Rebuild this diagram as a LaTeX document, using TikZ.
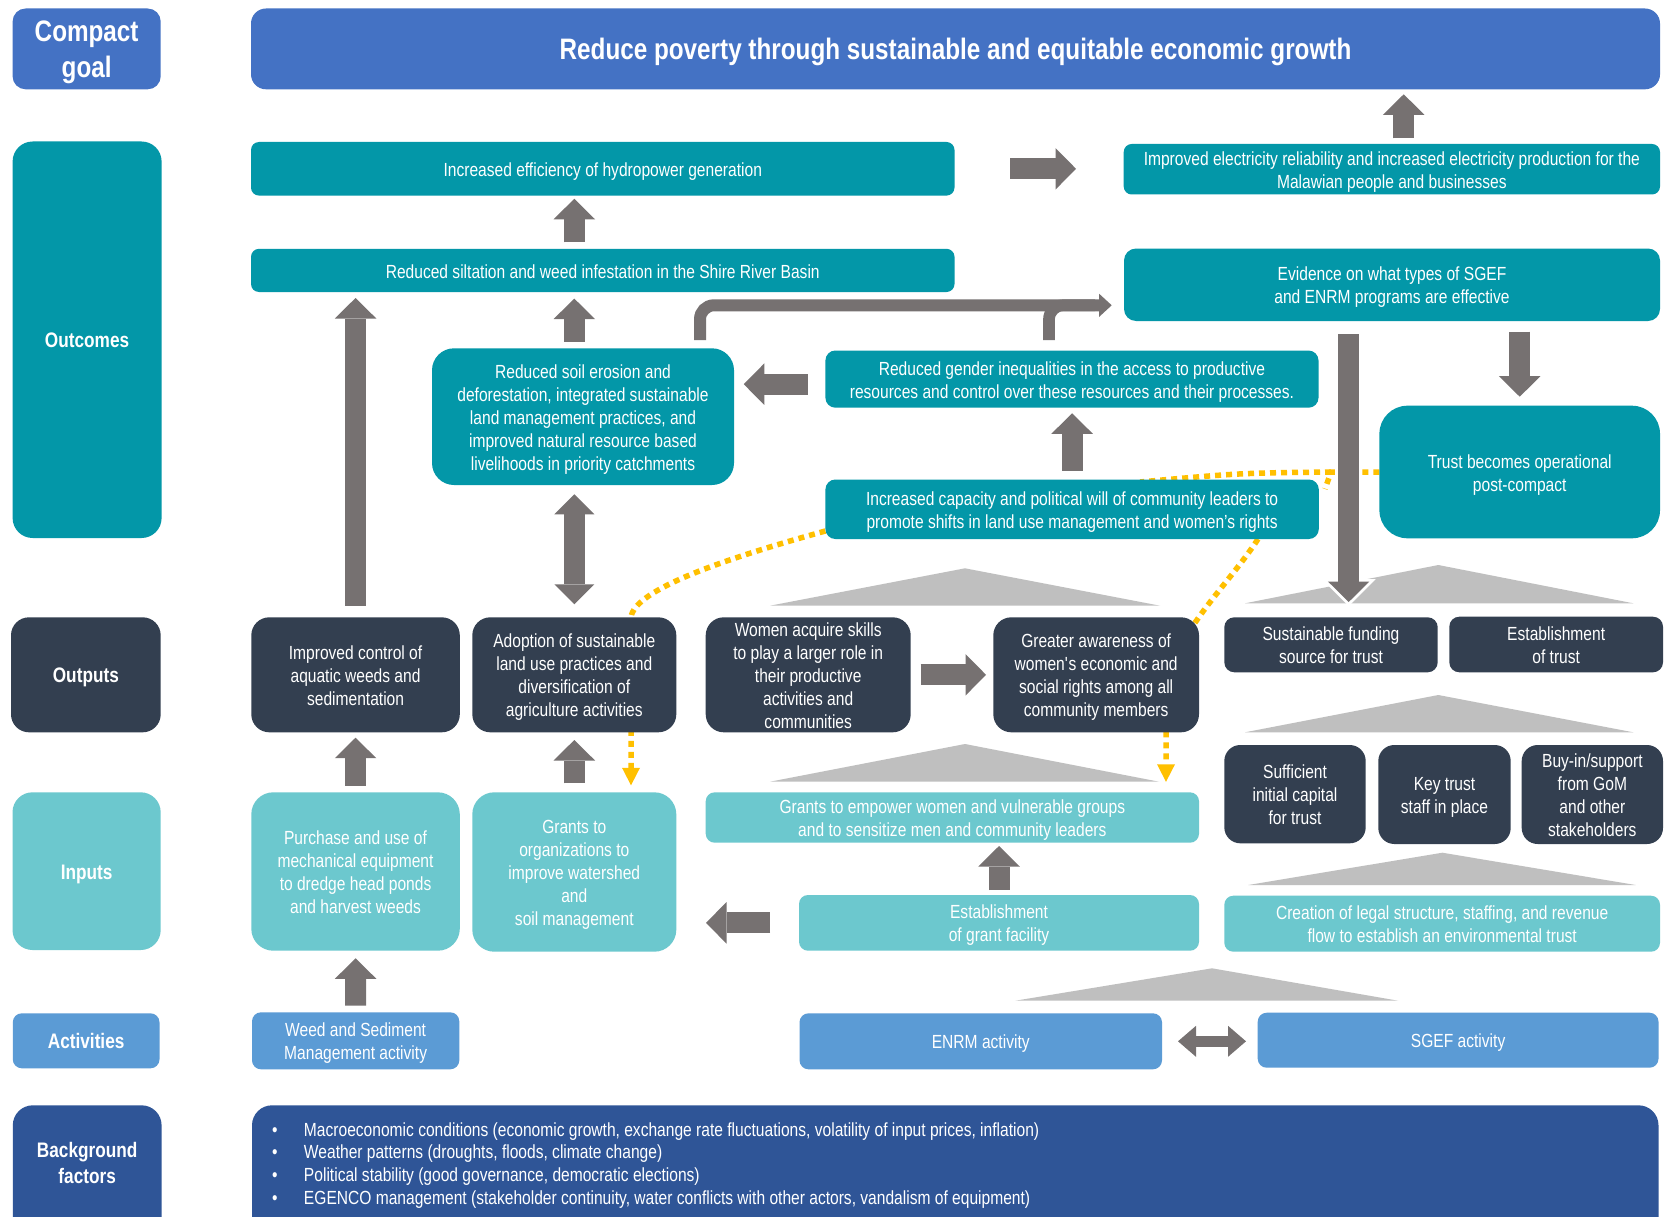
\documentclass[tikz,border=0pt]{standalone}
\usepackage{fontspec}
\setmainfont{Liberation Sans}[FakeStretch=0.82]
\usetikzlibrary{arrows.meta,calc}
\definecolor{goalblue}{HTML}{4472C4}
\definecolor{outteal}{HTML}{0397A8}
\definecolor{outdark}{HTML}{333F50}
\definecolor{inteal}{HTML}{6CC8CE}
\definecolor{actblue}{HTML}{5B9BD5}
\definecolor{bgblue}{HTML}{2F5597}
\definecolor{arrgray}{HTML}{767171}
\definecolor{trigray}{HTML}{BFBFBF}
\definecolor{ylw}{HTML}{FFC000}
\pgfdeclarelayer{back}
\pgfsetlayers{back,main}
\newcommand{\bx}[7]{\node[#6, minimum width={(#4)-(#2)}, minimum height={(#5)-(#3)}] (#1) at ({((#2)+(#4))/2},{((#3)+(#5))/2}) {\raisebox{-3pt}[\height][\depth]{\begin{tabular}{@{}c@{}}#7\end{tabular}}};}
\tikzset{
  base/.style={inner sep=0pt, outer sep=0pt, align=center, text=white, font=\fontsize{19}{23}\selectfont},
  lab/.style={base, font=\bfseries\fontsize{21}{25.5}\selectfont},
  oc/.style={base, fill=outteal},
  op/.style={base, fill=outdark},
  ip/.style={base, fill=inteal},
  ac/.style={base, fill=actblue},
  blk/.style={draw=arrgray, line width=21pt, -{Triangle[length=20.5pt,width=41.5pt,line width=0pt]}},
  blkk/.style={draw=arrgray, line width=21pt, {Triangle[length=20pt,width=40pt,line width=0pt]}-{Triangle[length=20pt,width=40pt,line width=0pt]}},
  ydot/.style={draw=ylw, line width=5.5pt, dash pattern=on 6pt off 5pt},
  yarr/.style={ydot, -{Triangle[length=17.5pt,width=18pt,line width=0pt]}},
  tri/.style={fill=trigray}
}
\begin{document}
\begin{tikzpicture}[x=1pt,y=-1pt]
\useasboundingbox (0,0) rectangle (1667,1217);
\clip (0,0) rectangle (1667,1217);

% ---------- row labels ----------
\bx{lgoal}{12.6}{8.5}{160.7}{89.3}{lab, fill=goalblue, rounded corners=13pt, font=\bfseries\fontsize{29.6}{36}\selectfont}{Compact\\goal}
\bx{lout}{12.6}{141.5}{161.6}{538}{lab, fill=outteal, rounded corners=20pt}{Outcomes}
\bx{loutp}{11}{617.3}{160.7}{732.3}{lab, fill=outdark, rounded corners=18pt}{Outputs}
\bx{linp}{12.5}{792.3}{160.7}{950}{lab, fill=inteal, rounded corners=20pt}{Inputs}
\bx{lact}{12.8}{1013.3}{159.5}{1068.3}{lab, fill=actblue, rounded corners=9pt}{Activities}
\bx{lbg}{12.8}{1105.3}{161.6}{1250}{lab, fill=bgblue, rounded corners=20pt}{}
\node[lab] (lbgt) at (87.2,1163) {Background\\factors};

% ---------- goal ----------
\bx{goal}{251}{8.5}{1660}{89.3}{base, fill=goalblue, rounded corners=15pt, font=\bfseries\fontsize{29.6}{36}\selectfont}{Reduce poverty through sustainable and equitable economic growth}

% ---------- outcomes ----------
\bx{hydro}{251}{142}{954.5}{195.6}{oc, rounded corners=8pt}{Increased efficiency of hydropower generation}
\bx{elec}{1123.7}{144}{1660}{194.5}{oc, rounded corners=8pt}{Improved electricity reliability and increased electricity production for the\\Malawian people and businesses}
\bx{silt}{251}{248.8}{954.5}{292}{oc, rounded corners=8pt}{Reduced siltation and weed infestation in the Shire River Basin}
\bx{evid}{1124}{248.5}{1660}{321}{oc, rounded corners=12pt}{Evidence on what types of SGEF\\and ENRM programs are effective}
\bx{soil}{432}{348.3}{734}{485}{oc, rounded corners=22pt}{Reduced soil erosion and\\deforestation, integrated sustainable\\land management practices, and\\improved natural resource based\\livelihoods in priority catchments}
\bx{gender}{825.4}{350.5}{1318.5}{407.7}{oc, rounded corners=10pt}{Reduced gender inequalities in the access to productive\\resources and control over these resources and their processes.}
\bx{capac}{825.4}{479.5}{1318.8}{539}{oc, rounded corners=10pt}{Increased capacity and political will of community leaders to\\promote shifts in land use management and women’s rights}
\bx{trust}{1379.4}{405.7}{1660}{538.3}{oc, rounded corners=28pt}{Trust becomes operational\\post-compact}

% ---------- outputs ----------
\bx{impctl}{251.3}{617.3}{459.8}{732.3}{op, rounded corners=18pt}{Improved control of\\aquatic weeds and\\sedimentation}
\bx{adopt}{472.3}{617.3}{676.3}{732.3}{op, rounded corners=18pt}{Adoption of sustainable\\land use practices and\\diversification of\\agriculture activities}
\bx{women}{705.7}{617.3}{910.7}{732.3}{op, rounded corners=18pt}{Women acquire skills\\to play a larger role in\\their productive\\activities and\\communities}
\bx{aware}{993.3}{617.3}{1199}{732.3}{op, rounded corners=18pt}{Greater awareness of\\women\textquotesingle s economic and\\social rights among all\\community members}
\bx{fund}{1224.3}{617.3}{1437.7}{672.3}{op, rounded corners=10pt}{Sustainable funding\\source for trust}
\bx{estrust}{1449.3}{616.7}{1663}{672.3}{op, rounded corners=10pt}{Establishment\\of trust}
\bx{suff}{1224.3}{745}{1365.7}{843.3}{op, rounded corners=16pt}{Sufficient\\initial capital\\for trust}
\bx{keyst}{1378.3}{745}{1510.7}{844}{op, rounded corners=16pt}{Key trust\\staff in place}
\bx{buyin}{1521.7}{745}{1663}{844}{op, rounded corners=16pt}{Buy-in/support\\from GoM\\and other\\stakeholders}

% ---------- inputs ----------
\bx{purch}{251.3}{792.3}{459.8}{950.7}{ip, rounded corners=22pt}{Purchase and use of\\mechanical equipment\\to dredge head ponds\\and harvest weeds}
\bx{grorg}{472.3}{792.3}{676.3}{951.7}{ip, rounded corners=22pt}{Grants to\\organizations to\\improve watershed\\and\\soil management}
\bx{grwom}{705.7}{792.3}{1199}{842.7}{ip, rounded corners=9pt}{Grants to empower women and vulnerable groups\\and to sensitize men and community leaders}
\bx{estgr}{799}{895}{1199}{950.7}{ip, rounded corners=9pt}{Establishment\\of grant facility}
\bx{creat}{1224.3}{895.7}{1660}{951.7}{ip, rounded corners=9pt}{Creation of legal structure, staffing, and revenue\\flow to establish an environmental trust}

% ---------- activities ----------
\bx{weed}{252}{1012.3}{459.3}{1069.3}{ac, rounded corners=9pt}{Weed and Sediment\\Management activity}
\bx{enrm}{799.5}{1013.3}{1162}{1069.3}{ac, rounded corners=9pt}{ENRM activity}
\bx{sgef}{1257.7}{1012.7}{1658.5}{1067.7}{ac, rounded corners=9pt}{SGEF activity}

% ---------- background ----------
\bx{bg}{252}{1105.3}{1658.5}{1250}{base, fill=bgblue, rounded corners=20pt}{}
\node[base, anchor=north west, align=left, font=\fontsize{19}{22.7}\selectfont] (bgtext) at (272,1122.5)
 {\makebox[32pt][l]{•}Macroeconomic conditions (economic growth, exchange rate fluctuations, volatility of input prices, inflation)\\
  \makebox[32pt][l]{•}Weather patterns (droughts, floods, climate change)\\
  \makebox[32pt][l]{•}Political stability (good governance, democratic elections)\\
  \makebox[32pt][l]{•}EGENCO management (stakeholder continuity, water conflicts with other actors, vandalism of equipment)};

% ---------- back layer: page, triangles and dotted links ----------
\begin{pgfonlayer}{back}
\fill[white] (0,0) rectangle (1667,1217);
\fill[tri] (770,605.7) -- (965,568.3) -- (1160,605.7) -- cycle;
\fill[tri] (770,781.7) -- (965,744) -- (1159,781.7) -- cycle;
\fill[tri] (1245,603.3) -- (1438.3,565) -- (1633.3,603.3) -- cycle;
\fill[tri] (1245,732.3) -- (1438.3,695) -- (1633.3,732.3) -- cycle;
\fill[tri] (1248.3,885) -- (1442.3,852.7) -- (1635.7,885) -- cycle;
\fill[tri] (1015.3,1000.7) -- (1212,968.3) -- (1398,1000.7) -- cycle;
\coordinate (y1s) at ($(capac.south west)+(0,-8)$);
\coordinate (y1e) at ($(grorg.north)+(56.7,-7)$);
\draw[yarr] (y1s) .. controls (720,560) and (635,590) .. (631,617) -- (y1e);
\coordinate (y2s) at ($(capac.south east)+(-60.8,0)$);
\coordinate (y2e) at ($(grwom.north east)+(-33,-10.5)$);
\draw[yarr] (y2s) .. controls (1225,590) and (1166,640) .. (1166,700) -- (y2e);
\coordinate (y3m) at (1331,472);
\coordinate (y3a) at (1325,489);
\coordinate (y3b) at (1140,482);
\draw[ydot] (trust.west) -- (y3m) -- (y3a);
\draw[ydot] (y3m) .. controls (1240,473) .. (y3b);
\end{pgfonlayer}

% ---------- block arrows ----------
\coordinate (c1) at (1403.7,144);
\draw[blk, shorten <=5.7pt, shorten >=5pt] (c1) -- (c1 |- goal.south);
\draw[blk, shorten <=55.5pt, shorten >=47.7pt] (hydro.east) -- (hydro.east -| elec.west);
\draw[blk, shorten <=6.4pt, shorten >=3.2pt] (silt.north -| adopt.north) -- (hydro.south -| adopt.north);
\draw[blk, shorten <=11.6pt, shorten >=6pt] (impctl.north) -- (impctl.north |- silt.south);
\draw[blk, shorten <=6.6pt, shorten >=6.6pt] (soil.north -| adopt.north) -- (silt.south -| adopt.north);
\draw[blkk, shorten <=9.3pt, shorten >=13pt] (soil.south -| adopt.north) -- (adopt.north);
\coordinate (c7) at (825.4,384.2);
\draw[blk, shorten <=17.8pt, shorten >=9.75pt] (c7) -- (c7 -| soil.east);
\draw[blk, shorten <=8.8pt, shorten >=5.6pt] (capac.north) -- (capac.north |- gender.south);
\coordinate (c9) at (1348.7,321);
\draw[draw=white, line width=27pt, -{Triangle[length=27pt,width=54pt,line width=0pt]}, shorten <=10pt, shorten >=11.1pt] (c9) -- (c9 |- fund.north);
\draw[blk, shorten <=13pt, shorten >=15.3pt] (c9) -- (c9 |- fund.north);
\draw[blk, shorten <=10.7pt, shorten >=9pt] (trust.north |- evid.south) -- (trust.north);
\draw[blk, shorten <=10pt, shorten >=7.3pt] (women.east) -- (women.east -| aware.west);
\draw[blk, shorten <=6.6pt, shorten >=5.4pt] (purch.north) -- (impctl.south);
\draw[blk, shorten <=9pt, shorten >=7.7pt] (grorg.north) -- (adopt.south);
\draw[blk, shorten <=5pt, shorten >=3.3pt] (estgr.north) -- (estgr.north |- grwom.south);
\draw[blk, shorten <=29pt, shorten >=29.7pt] (estgr.west) -- (estgr.west -| grorg.east);
\draw[blk, shorten <=6.6pt, shorten >=7.6pt] (weed.north) -- (purch.south);
\draw[draw=arrgray, line width=10.6pt, {Triangle[length=18pt,width=31pt,line width=0pt]}-{Triangle[length=18pt,width=31pt,line width=0pt]}, shorten <=16pt, shorten >=11.7pt] (enrm.east) -- (enrm.east -| sgef.west);
% elbow connector
\coordinate (e1) at (700,340);
\coordinate (e2) at (1049,340);
\coordinate (eh) at (0,305.3);
\coordinate (eb) at (1095,305.3);
\draw[draw=arrgray, line width=12pt, rounded corners=14pt, -{Triangle[length=12.5pt,width=23pt,line width=0pt]}, shorten >=12.3pt] (e1) |- (evid.west |- eh);
\draw[draw=arrgray, line width=11.7pt, rounded corners=14pt] (e2) |- (eb);
\end{tikzpicture}
\end{document}
